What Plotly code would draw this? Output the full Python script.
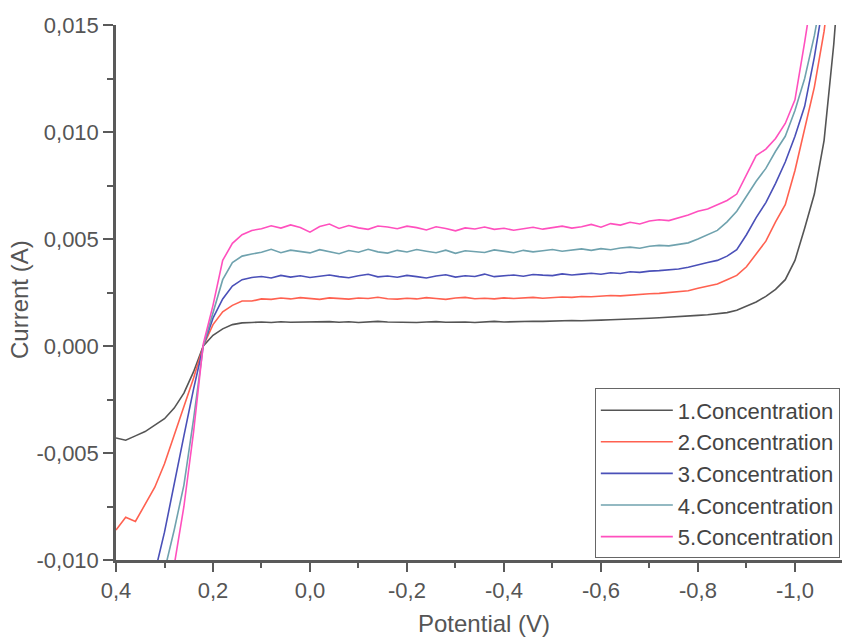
import plotly.graph_objects as go

# Potential grid (V), 0.40 down to -1.10 in 0.02 steps
potential = [0.40, 0.38, 0.36, 0.34, 0.32, 0.30, 0.28, 0.26, 0.24, 0.22,
             0.20, 0.18, 0.16, 0.14, 0.12, 0.10, 0.08, 0.06, 0.04, 0.02,
             0.00, -0.02, -0.04, -0.06, -0.08, -0.10, -0.12, -0.14, -0.16, -0.18,
             -0.20, -0.22, -0.24, -0.26, -0.28, -0.30, -0.32, -0.34, -0.36, -0.38,
             -0.40, -0.42, -0.44, -0.46, -0.48, -0.50, -0.52, -0.54, -0.56, -0.58,
             -0.60, -0.62, -0.64, -0.66, -0.68, -0.70, -0.72, -0.74, -0.76, -0.78,
             -0.80, -0.82, -0.84, -0.86, -0.88, -0.90, -0.92, -0.94, -0.96, -0.98,
             -1.00, -1.02, -1.04, -1.06, -1.08, -1.10]

conc1 = [-0.0043, -0.0044, -0.0042, -0.0040, -0.0037, -0.0034, -0.0029, -0.0022, -0.0012, 0.0000,
         0.0005, 0.0008, 0.0010, 0.00108, 0.00110, 0.00112, 0.00110, 0.00113, 0.00111, 0.00112,
         0.00110, 0.00112, 0.00114, 0.00111, 0.00113, 0.00110, 0.00112, 0.00115, 0.00112, 0.00111,
         0.00113, 0.00110, 0.00112, 0.00114, 0.00111, 0.00113, 0.00112, 0.00110, 0.00113, 0.00115,
         0.00112, 0.00114, 0.00113, 0.00116, 0.00115, 0.00117, 0.00116, 0.00119, 0.00118, 0.00121,
         0.00121, 0.00123, 0.00124, 0.00126, 0.00128, 0.00130, 0.00132, 0.00134, 0.00137, 0.00140,
         0.00143, 0.00146, 0.00150, 0.00156, 0.00167, 0.00185, 0.00206, 0.00232, 0.00265, 0.00310,
         0.0040, 0.0055, 0.0071, 0.0096, 0.0141, 0.0200]

conc2 = [-0.0086, -0.0080, -0.0082, -0.0074, -0.0066, -0.0055, -0.0042, -0.0029, -0.0015, 0.0000,
         0.0010, 0.0016, 0.0019, 0.0021, 0.0021, 0.0022, 0.00218, 0.00224, 0.00220, 0.00226,
         0.00222, 0.00218, 0.00225, 0.00221, 0.00219, 0.00224, 0.00222, 0.00228, 0.00221, 0.00219,
         0.00223, 0.00220, 0.00226, 0.00222, 0.00218, 0.00224, 0.00227, 0.00221, 0.00223, 0.00220,
         0.00225, 0.00222, 0.00224, 0.00227, 0.00223, 0.00226, 0.00229, 0.00227, 0.00231, 0.00230,
         0.00233, 0.00236, 0.00234, 0.00238, 0.00241, 0.00244, 0.00246, 0.00250, 0.00253, 0.00258,
         0.0027, 0.0028, 0.0029, 0.0031, 0.0033, 0.0037, 0.0043, 0.0049, 0.0058, 0.0066,
         0.0082, 0.0101, 0.0121, 0.0147, 0.0180, 0.0220]

conc3 = [-0.0145, -0.0135, -0.0125, -0.0115, -0.0106, -0.0087, -0.0064, -0.0042, -0.0020, 0.0000,
         0.0013, 0.0022, 0.0028, 0.0031, 0.0032, 0.00325, 0.00318, 0.00330, 0.00322, 0.00328,
         0.00320, 0.00326, 0.00332, 0.00324, 0.00319, 0.00328, 0.00335, 0.00323, 0.00327, 0.00321,
         0.00330, 0.00324, 0.00318, 0.00327, 0.00333, 0.00322, 0.00328, 0.00325, 0.00336, 0.00324,
         0.00329, 0.00332, 0.00326, 0.00334, 0.00331, 0.00329, 0.00337, 0.00332, 0.00336, 0.00340,
         0.00335, 0.00342, 0.00339, 0.00347, 0.00344, 0.00350, 0.00352, 0.00356, 0.00360, 0.00368,
         0.0038, 0.0039, 0.0040, 0.0042, 0.0045, 0.0052, 0.0060, 0.0067, 0.0076, 0.0086,
         0.0098, 0.0112, 0.0135, 0.0160, 0.0190, 0.0230]

conc4 = [-0.0200, -0.0180, -0.0160, -0.0140, -0.0120, -0.0105, -0.0086, -0.0065, -0.0034, 0.0000,
         0.0016, 0.0031, 0.0039, 0.0042, 0.0043, 0.00438, 0.00452, 0.00436, 0.00448, 0.00441,
         0.00435, 0.00450, 0.00442, 0.00431, 0.00446, 0.00438, 0.00452, 0.00440, 0.00434, 0.00447,
         0.00439, 0.00451, 0.00443, 0.00436, 0.00448, 0.00433, 0.00445, 0.00441, 0.00437, 0.00449,
         0.00442, 0.00436, 0.00447, 0.00440, 0.00445, 0.00451, 0.00443, 0.00448, 0.00454, 0.00447,
         0.00455, 0.00450, 0.00458, 0.00462, 0.00457, 0.00466, 0.00470, 0.00468, 0.00476, 0.00482,
         0.0050, 0.0052, 0.0054, 0.0058, 0.0063, 0.0070, 0.0077, 0.0083, 0.0091, 0.0098,
         0.0110, 0.0125, 0.0145, 0.0170, 0.0200, 0.0240]

conc5 = [-0.0240, -0.0220, -0.0200, -0.0180, -0.0160, -0.0130, -0.0102, -0.0075, -0.0040, 0.0001,
         0.0019, 0.0040, 0.0048, 0.0052, 0.0054, 0.00548, 0.00562, 0.00551, 0.00566, 0.00554,
         0.00532, 0.00558, 0.00570, 0.00549, 0.00563, 0.00552, 0.00545, 0.00561, 0.00556, 0.00548,
         0.00560, 0.00553, 0.00542, 0.00557, 0.00549, 0.00538, 0.00552, 0.00547, 0.00556, 0.00545,
         0.00550, 0.00541, 0.00548, 0.00555, 0.00546, 0.00553, 0.00560, 0.00551, 0.00557, 0.00568,
         0.00555, 0.00572, 0.00565, 0.00578, 0.00570, 0.00584, 0.00590, 0.00586, 0.00598, 0.00612,
         0.0063, 0.0064, 0.0066, 0.0068, 0.0071, 0.0080, 0.0089, 0.0092, 0.0097, 0.0104,
         0.0115, 0.0142, 0.0170, 0.0200, 0.0240, 0.0280]

series_names = ["1.Concentration", "2.Concentration", "3.Concentration",
                "4.Concentration", "5.Concentration"]
series_values = [conc1, conc2, conc3, conc4, conc5]
series_colors = ["#555555", "#FF6150", "#4A50B8", "#6FA2AE", "#FF50BE"]

x_tick_vals = [0.4, 0.2, 0.0, -0.2, -0.4, -0.6, -0.8, -1.0]
x_tick_text = ["0,4", "0,2", "0,0", "-0,2", "-0,4", "-0,6", "-0,8", "-1,0"]
y_tick_vals = [-0.010, -0.005, 0.000, 0.005, 0.010, 0.015]
y_tick_text = ["-0,010", "-0,005", "0,000", "0,005", "0,010", "0,015"]

FONT = "Liberation Sans, Arial, sans-serif"
TXT = "#555555"
AX = "#5a5a5a"

fig = go.Figure()
for name, vals, col in zip(series_names, series_values, series_colors):
    fig.add_trace(go.Scatter(x=potential, y=vals, mode="lines", name=name,
                             line=dict(color=col, width=1.6)))

fig.update_layout(
    width=844, height=639,
    margin=dict(l=116, r=2, t=25, b=79),
    paper_bgcolor="white", plot_bgcolor="white",
    font=dict(family=FONT, color=TXT, size=22),
    showlegend=True,
    legend=dict(x=0.997, y=0.003, xanchor="right", yanchor="bottom",
                bgcolor="white", bordercolor="#666666", borderwidth=1,
                font=dict(size=22, color="#444444"), tracegroupgap=0,
                itemwidth=72),
    annotations=[
        dict(text="Current (A)", xref="paper", yref="paper",
             x=(20 - 116) / 726, y=(560 - 300) / 535, textangle=-90,
             showarrow=False, xanchor="center", yanchor="middle",
             font=dict(size=24, color=TXT)),
        dict(text="Potential (V)", xref="paper", yref="paper",
             x=(484 - 116) / 726, y=(560 - 623) / 535,
             showarrow=False, xanchor="center", yanchor="middle",
             font=dict(size=24, color=TXT)),
    ],
)
fig.update_xaxes(
    range=[0.4, -1.097], showgrid=False, zeroline=False,
    showline=True, linecolor=AX, linewidth=2.5,
    ticks="outside", ticklen=9, tickwidth=2, tickcolor=AX,
    tickvals=x_tick_vals, ticktext=x_tick_text,
    tickfont=dict(size=22, color=TXT),
    minor=dict(dtick=0.1, tick0=0, ticks="outside", ticklen=5, tickwidth=2, tickcolor=AX),
)
fig.update_yaxes(
    range=[-0.010, 0.015], showgrid=False, zeroline=False,
    showline=True, linecolor=AX, linewidth=2.5,
    ticks="outside", ticklen=10, tickwidth=2, tickcolor=AX,
    tickvals=y_tick_vals, ticktext=y_tick_text,
    tickfont=dict(size=22, color=TXT),
    minor=dict(dtick=0.0025, tick0=0, ticks="outside", ticklen=6, tickwidth=2, tickcolor=AX),
)

fig.write_html("out.html")
